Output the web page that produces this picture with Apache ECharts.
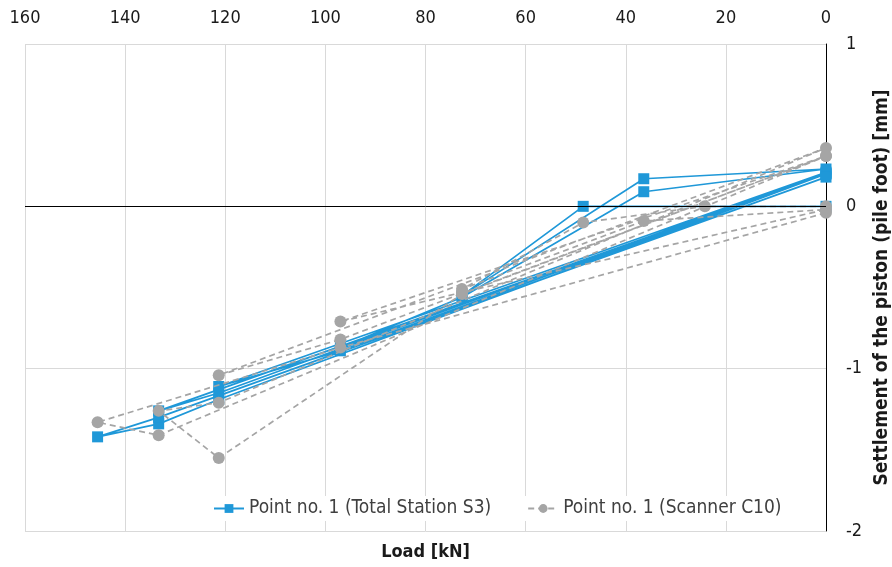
<!DOCTYPE html>
<html>
<head>
<meta charset="utf-8">
<script src="https://cdn.jsdelivr.net/npm/echarts@6/dist/echarts.min.js"></script>
<style>
html,body{margin:0;padding:0;background:#fff;}
#chart{width:892px;height:567px;}
</style>
</head>
<body>
<div id="chart"></div>
<script>
// Load ticks (kN) and settlement ticks (mm)
var loadTicks = [160, 140, 120, 100, 80, 60, 40, 20, 0];
var settlementTicks = [1, 0, -1, -2];

// Point no. 1 (Total Station S3): [load kN, settlement mm], in measurement order
var totalStationLoad = [0, 48.5, 72.7, 36.4, 0, 36.4, 72.7, 97, 0, 97, 121.3, 0, 121.3, 133.3, 0, 121.3, 133.3, 145.5, 133.3, 0];
var totalStationSettle = [0.0, 0.0, -0.55, 0.17, 0.23, 0.09, -0.56, -0.87, 0.20, -0.89, -1.11, 0.21, -1.15, -1.26, 0.20, -1.19, -1.34, -1.42, -1.30, 0.18];

// Point no. 1 (Scanner C10)
var scannerLoad = [0, 24.2, 48.5, 72.7, 36.4, 0, 72.7, 97, 0, 97, 121.3, 0, 121.3, 133.3, 121.3, 72.7, 0, 133.3, 145.5, 97, 0];
var scannerSettle = [0.0, 0.0, -0.10, -0.51, -0.09, -0.02, -0.53, -0.71, 0.31, -0.82, -1.04, 0.36, -1.21, -1.26, -1.55, -0.54, 0.31, -1.41, -1.33, -0.87, -0.04];

function pairs(xs, ys) { return xs.map(function (x, i) { return [x, ys[i]]; }); }

var FONT = '"Liberation Sans Narrow", "DejaVu Sans Condensed", "Noto Sans", sans-serif';
var chart = echarts.init(document.getElementById('chart'), null, {renderer: 'canvas'});
chart.setOption({
  animation: false,
  backgroundColor: '#ffffff',
  textStyle: {fontFamily: FONT},
  grid: {left: 25, right: 66, top: 44, bottom: 36, containLabel: false, outerBoundsMode: 'none'},
  legend: {
    left: 208, top: 496,
    backgroundColor: '#ffffff',
    padding: [3, 5],
    itemGap: 36,
    itemWidth: 30, itemHeight: 11,
    textStyle: {fontFamily: FONT, fontSize: 19, color: '#404040'},
    data: ['Point no. 1 (Total Station S3)', 'Point no. 1 (Scanner C10)']
  },
  xAxis: [{
    type: 'value', position: 'top', inverse: true,
    min: 0, max: 160, interval: 20,
    axisLine: {show: false}, axisTick: {show: false},
    axisLabel: {fontFamily: FONT, fontSize: 18, color: '#1a1a1a', margin: 17},
    splitLine: {show: true, lineStyle: {color: '#d9d9d9', width: 1}}
  }, {
    type: 'value', position: 'bottom', inverse: true,
    min: 0, max: 160, interval: 20,
    axisLine: {show: false}, axisTick: {show: false}, axisLabel: {show: false},
    splitLine: {show: false},
    name: 'Load [kN]', nameLocation: 'middle', nameGap: 12,
    nameTextStyle: {fontFamily: FONT, fontSize: 18, fontWeight: 'bold', color: '#1a1a1a'}
  }],
  yAxis: {
    type: 'value', position: 'right',
    min: -2, max: 1, interval: 1,
    axisLine: {show: true, onZero: false, lineStyle: {color: '#000', width: 1}},
    axisTick: {show: false},
    axisLabel: {fontFamily: FONT, fontSize: 18, color: '#1a1a1a', margin: 20},
    splitLine: {show: true, lineStyle: {color: '#d9d9d9', width: 1}},
    name: 'Settlement of the piston (pile foot) [mm]',
    nameLocation: 'middle', nameGap: 45, nameRotate: 90,
    nameTextStyle: {fontFamily: FONT, fontSize: 19, fontWeight: 'bold', color: '#1a1a1a'}
  },
  series: [{
    name: 'Point no. 1 (Total Station S3)',
    type: 'line', xAxisIndex: 0,
    data: pairs(totalStationLoad, totalStationSettle),
    symbol: 'rect', symbolSize: 11,
    itemStyle: {color: '#1f98d8'},
    lineStyle: {color: '#1f98d8', width: 1.7},
    markLine: {
      silent: true, symbol: ['none', 'none'], label: {show: false},
      lineStyle: {color: '#000', width: 1, type: 'solid'},
      data: [{yAxis: 0}]
    },
    z: 2
  }, {
    name: 'Point no. 1 (Scanner C10)',
    type: 'line', xAxisIndex: 0,
    data: pairs(scannerLoad, scannerSettle),
    symbol: 'circle', symbolSize: 12,
    itemStyle: {color: '#a5a5a5'},
    lineStyle: {color: '#a5a5a5', width: 1.7, type: [6, 4]},
    z: 3
  }]
});
</script>
</body>
</html>
